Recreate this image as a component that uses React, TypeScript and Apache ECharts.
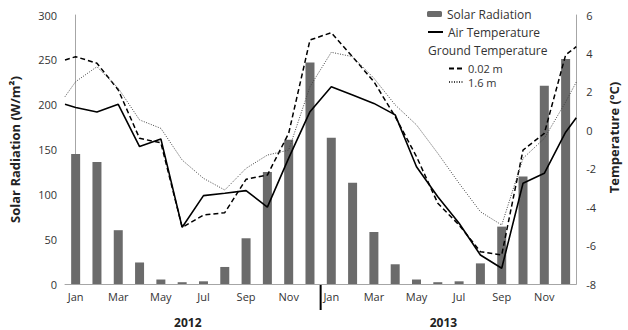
import React, { useEffect, useRef } from "react";
import * as echarts from "echarts";

// Monthly categories over two years
const monthNames = ["Jan", "Feb", "Mar", "Apr", "May", "Jun", "Jul", "Aug", "Sep", "Oct", "Nov", "Dec"];
const years = ["2012", "2013"];
const months = [...monthNames, ...monthNames];

// Mean solar radiation (W/m²)
const solarRadiation = [145, 136, 60, 24, 5, 2, 3, 19, 51, 125, 161, 247, 163, 113, 58, 22, 5, 2, 3, 23, 64, 120, 221, 251];

// Temperatures (°C); the edge pairs are the values where the curves meet the plot borders
const airTemperature = [1.19, 0.95, 1.35, -0.85, -0.45, -5.05, -3.4, -3.28, -3.14, -4.0, -1.45, 0.97, 2.27, 1.84, 1.4, 0.8, -1.9, -3.46, -4.84, -6.49, -7.18, -2.76, -2.24, -0.1];
const airTemperatureEdges = [1.35, 0.65];
const ground002 = [3.83, 3.49, 2.1, -0.42, -0.65, -5.05, -4.41, -4.29, -2.55, -2.33, -0.16, 4.7, 5.08, 3.82, 2.53, 0.71, -1.37, -3.8, -4.93, -6.32, -6.49, -1.03, -0.16, 3.92];
const ground002Edges = [3.66, 4.35];
const ground16 = [2.53, 3.31, 2.19, 0.54, 0.1, -1.55, -2.5, -3.11, -1.98, -1.29, -1.03, 2.27, 4.06, 3.83, 2.71, 1.32, 0.28, -1.2, -2.76, -4.24, -4.93, -1.46, -0.42, 1.47];
const ground16Edges = [1.75, 2.51];

const FONT = "'Open Sans', 'Noto Sans', sans-serif";
const AXIS_GREY = "#a6a6a6";
const TEXT = "#333";

function withEdges(values: number[], edges: number[]): number[][] {
  const n = values.length;
  return [[-0.5, edges[0]], ...values.map((v, i) => [i, v]), [n - 0.5, edges[1]]];
}

// One legend entry per block so each row can be placed on its own
function legendEntry(name: string, left: number, top: number, itemWidth: number, isLine: boolean, fontSize: number) {
  return {
    data: [isLine ? { name, itemStyle: { opacity: 0 } } : { name }],
    orient: "vertical",
    left,
    top,
    itemWidth,
    itemHeight: 6,
    itemGap: 0,
    padding: 0,
    textStyle: { fontFamily: FONT, fontSize, color: TEXT, lineHeight: fontSize },
    selectedMode: false,
  };
}

export default function App() {
  const ref = useRef<HTMLDivElement>(null);

  useEffect(() => {
    if (!ref.current) return;
    document.body.style.margin = "0";
    const chart = echarts.init(ref.current, undefined, { renderer: "svg" });
    const n = months.length;

    chart.setOption({
      animation: false,
      textStyle: { fontFamily: FONT },
      grid: { left: 63, right: 43, top: 15, bottom: 46 },
      legend: [
        legendEntry("Solar Radiation", 427, 8, 15, false, 12),
        legendEntry("Air Temperature", 427, 26, 15, true, 12),
        legendEntry("0.02 m", 448, 63, 14, true, 11),
        legendEntry("1.6 m", 448, 76.5, 14, true, 11),
      ],
      xAxis: [
        {
          type: "category",
          data: months,
          axisLine: { lineStyle: { color: AXIS_GREY } },
          axisTick: { show: false },
          axisLabel: { interval: 1, color: TEXT, fontSize: 11, margin: 7, fontFamily: FONT },
        },
        {
          type: "value",
          min: -0.5,
          max: n - 0.5,
          show: false,
        },
        {
          type: "category",
          data: years,
          position: "bottom",
          axisLine: { show: false },
          axisTick: { show: false },
          axisLabel: {
            color: "#222",
            fontSize: 12,
            fontWeight: "bold",
            margin: 32,
            padding: [0, 10, 0, 0],
            fontFamily: FONT,
          },
        },
      ],
      yAxis: [
        {
          type: "value",
          min: 0,
          max: 300,
          interval: 50,
          name: "Solar Radiation (W/m²)",
          nameLocation: "middle",
          nameGap: 44,
          nameRotate: 90,
          nameTextStyle: { fontWeight: "bold", fontSize: 13, color: "#222", fontFamily: FONT },
          axisLine: { show: true, lineStyle: { color: AXIS_GREY } },
          axisTick: { show: false },
          splitLine: { show: false },
          axisLabel: { color: TEXT, fontSize: 11, margin: 8, fontFamily: FONT },
        },
        {
          type: "value",
          min: -8,
          max: 6,
          interval: 2,
          position: "right",
          name: "Temperature (°C)",
          nameLocation: "middle",
          nameGap: 30,
          nameRotate: 90,
          nameTextStyle: { fontWeight: "bold", fontSize: 13, color: "#222", fontFamily: FONT, padding: [0, 0, 0, 24] },
          axisLine: { show: true, lineStyle: { color: AXIS_GREY } },
          axisTick: { show: false },
          splitLine: { show: false },
          axisLabel: { color: TEXT, fontSize: 11, margin: 10, fontFamily: FONT },
        },
      ],
      series: [
        {
          name: "Solar Radiation",
          type: "bar",
          xAxisIndex: 0,
          yAxisIndex: 0,
          data: solarRadiation,
          barWidth: 9,
          itemStyle: { color: "#6b6b6b" },
        },
        {
          name: "Air Temperature",
          type: "line",
          xAxisIndex: 1,
          yAxisIndex: 1,
          data: withEdges(airTemperature, airTemperatureEdges),
          symbol: "none",
          lineStyle: { color: "#000", width: 1.6 },
          itemStyle: { color: "#000" },
        },
        {
          name: "0.02 m",
          type: "line",
          xAxisIndex: 1,
          yAxisIndex: 1,
          data: withEdges(ground002, ground002Edges),
          symbol: "none",
          lineStyle: { color: "#000", width: 1.5, type: [5, 3] },
          itemStyle: { color: "#000" },
        },
        {
          name: "1.6 m",
          type: "line",
          xAxisIndex: 1,
          yAxisIndex: 1,
          data: withEdges(ground16, ground16Edges),
          symbol: "none",
          lineStyle: { color: "#444", width: 1, type: [1, 1.5] },
          itemStyle: { color: "#444" },
        },
      ],
    });

    // Year separator between Dec 2012 and Jan 2013, plus the legend sub-heading
    const xDec = chart.convertToPixel({ xAxisIndex: 0 }, 11) as number;
    const xJan = chart.convertToPixel({ xAxisIndex: 0 }, 12) as number;
    const yBase = chart.convertToPixel({ yAxisIndex: 0 }, 0) as number;
    const xSep = (xDec + xJan) / 2;
    chart.setOption({
      graphic: [
        {
          type: "line",
          shape: { x1: xSep, y1: yBase, x2: xSep, y2: yBase + 26 },
          style: { stroke: "#000", lineWidth: 2 },
        },
        {
          type: "text",
          left: 428,
          top: 44,
          style: { text: "Ground Temperature", fontSize: 12, fill: TEXT, fontFamily: FONT },
        },
      ],
    });

    return () => chart.dispose();
  }, []);

  return <div ref={ref} style={{ width: 628, height: 330 }} />;
}
